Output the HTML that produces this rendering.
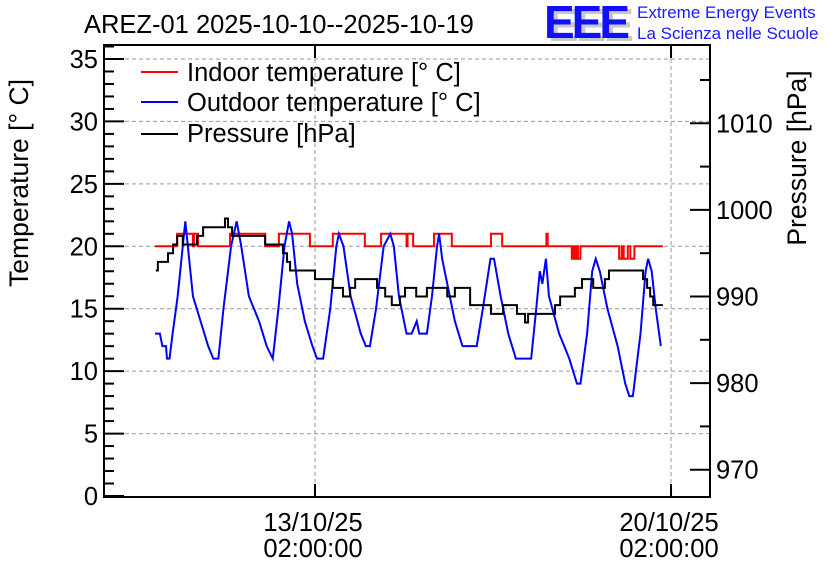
<!DOCTYPE html>
<html><head><meta charset="utf-8"><style>
html,body{margin:0;padding:0;background:#fff}
svg{display:block;font-family:"Liberation Sans",sans-serif}
</style></head><body>
<svg id="chart" width="836" height="572" viewBox="0 0 836 572">
<rect x="0" y="0" width="836" height="572" fill="#fff"/>
<text x="84" y="33" font-size="25.5">AREZ-01 2025-10-10--2025-10-19</text>
<g>
<text x="548" y="41" font-size="46" font-weight="bold" fill="#c8c8c8" letter-spacing="-3">EEE</text>
<text x="544" y="38" font-size="46" font-weight="bold" fill="#1010ff" letter-spacing="-3">EEE</text>
<text x="637" y="18" font-size="17" fill="#1a1aff">Extreme Energy Events</text>
<text x="637" y="39" font-size="17" fill="#1a1aff">La Scienza nelle Scuole</text>
</g>
<g id="grid"></g>
<g id="series"></g>
<rect x="104" y="45" width="606" height="452" fill="none" stroke="#000" stroke-width="2"/>
<g id="axes"></g>
<text transform="translate(28,183) rotate(-90)" text-anchor="middle" font-size="26.5">Temperature [° C]</text>
<text transform="translate(806,158) rotate(-90)" text-anchor="middle" font-size="26.5">Pressure [hPa]</text>
<g>
<line x1="141" y1="72" x2="178" y2="72" stroke="#f00" stroke-width="2"/>
<text x="187" y="81" font-size="25.5">Indoor temperature [° C]</text>
<line x1="141" y1="102" x2="178" y2="102" stroke="#00f" stroke-width="2"/>
<text x="187" y="111" font-size="25.5">Outdoor temperature [° C]</text>
<line x1="141" y1="134" x2="178" y2="134" stroke="#000" stroke-width="2"/>
<text x="187" y="142" font-size="25.5">Pressure [hPa]</text>
</g>
</svg>
<script>
// days relative to 13/10/25 02:00:00
const outTimes=[-3.146,-3.05,-3.0,-2.93,-2.91,-2.86,-2.80,-2.70,-2.6,-2.55,-2.5,-2.4,-2.25,-2.1,-2.0,-1.90,-1.8,-1.65,-1.54,-1.45,-1.3,-1.1,-0.95,-0.83,-0.72,-0.6,-0.51,-0.45,-0.35,-0.2,-0.05,0.04,0.16,0.3,0.42,0.47,0.56,0.7,0.9,1.0,1.08,1.2,1.35,1.48,1.55,1.65,1.8,1.9,2.0,2.05,2.2,2.3,2.4,2.44,2.5,2.6,2.75,2.9,3.18,3.3,3.45,3.52,3.65,3.8,3.95,4.25,4.35,4.42,4.47,4.54,4.6,4.8,5.0,5.15,5.22,5.35,5.45,5.52,5.6,5.75,5.95,6.1,6.18,6.25,6.4,6.5,6.55,6.62,6.7,6.8];
const outTemps=[13,13,12,12,11,11,13,16,20,22,20,16,14,12,11,11,15,20,22,20,16,14,12,11,15,20,22,21,17,14,12,11,11,15,20,21,20,16,13,12,12,15,20,21,20,16,13,13,14,13,13,16,20,21,19,17,14,12,12,15,19,19,16,13,11,11,15,18,17,19,16,13,11,9,9,13,18,19,18,15,12,9,8,8,13,18,19,18,15,12];
const inTimes=[-3.146,-2.71,-2.40,-2.38,-2.30,-1.67,-0.98,-0.71,-0.10,0.35,0.98,1.30,1.80,1.82,1.93,2.34,2.69,3.46,3.68,4.55,4.575,5.05,5.08,5.10,5.14,5.17,5.22,5.98,6.03,6.07,6.15,6.20,6.28];
const inTemps=[20,21,20,21,20,21,20,21,20,21,20,21,20,21,20,21,20,21,20,21,20,19,20,19,20,19,20,19,20,19,20,19,20];
const inEnd=6.84;
const pTimes=[-3.13,-3.09,-2.89,-2.79,-2.71,-2.60,-2.32,-2.20,-1.77,-1.71,-1.63,-0.98,-0.63,-0.55,-0.49,0.0,0.35,0.55,0.69,0.79,1.22,1.38,1.51,1.67,1.77,1.99,2.20,2.60,2.75,3.05,3.46,3.70,3.97,4.13,4.19,4.72,4.82,5.11,5.25,5.47,5.70,5.78,6.45,6.53,6.59,6.65];
const pValues=[993,994,995,996,997,996,997,998,999,998,997,996,995,994,993,992,991,990,991,992,991,990,989,990,991,990,991,990,991,989,988,989,988,987,988,989,990,991,992,991,992,993,992,991,990,989];
const pEnd=6.84;
const tempTicks=[0,5,10,15,20,25,30,35];
const presTicks=[970,980,990,1000,1010];
const xTickDays=[0,7];
const xTickDates=["13/10/25","20/10/25"];
const xTickTimes=["02:00:00","02:00:00"];

const NS="http://www.w3.org/2000/svg";
function X(d){return 315+d*50.86;}
function YT(t){return 496-t*12.486;}
function YP(p){return 209.9-(p-1000)*8.66;}
function mk(tag,attrs,parent){const e=document.createElementNS(NS,tag);for(const k in attrs)e.setAttribute(k,attrs[k]);parent.appendChild(e);return e;}
const grid=document.getElementById('grid'),axes=document.getElementById('axes'),series=document.getElementById('series');
tempTicks.forEach(t=>{
  if(t>0){const g=mk('line',{x1:104,x2:710,y1:YT(t),y2:YT(t),stroke:'#999','stroke-dasharray':'4,3','stroke-width':1},grid);
  
  }
  const tk=mk('line',{x1:104,x2:124,y1:YT(t),y2:YT(t),stroke:'#000','stroke-width':2},axes);
  
  
  const l=mk('text',{x:98,y:YT(t)+9,'text-anchor':'end','font-size':25.5},axes);l.textContent=t;
  
  
});
for(let t=1;t<=36;t++){if(t%5===0)continue;mk('line',{x1:104,x2:114,y1:YT(t),y2:YT(t),stroke:'#000','stroke-width':2},axes);}
presTicks.forEach(p=>{
  const tk=mk('line',{x1:690,x2:710,y1:YP(p),y2:YP(p),stroke:'#000','stroke-width':2},axes);
  
  
  const l=mk('text',{x:716,y:YP(p)+9,'font-size':25.5},axes);l.textContent=p;
  
  
});
for(let p=970;p<=1015;p+=5){if(p%10===0)continue;mk('line',{x1:700,x2:710,y1:YP(p),y2:YP(p),stroke:'#000','stroke-width':2},axes);}
xTickDays.forEach((d,i)=>{
  const g=mk('line',{x1:X(d),x2:X(d),y1:45,y2:497,stroke:'#999','stroke-dasharray':'4,3','stroke-width':1},grid);
  
  
  mk('line',{x1:X(d),x2:X(d),y1:497,y2:484,stroke:'#000','stroke-width':2},axes);
  mk('line',{x1:X(d),x2:X(d),y1:45,y2:58,stroke:'#000','stroke-width':2},axes);
  const a=mk('text',{x:X(d)-2,y:531,'text-anchor':'middle','font-size':25.5},axes);a.textContent=xTickDates[i];
  
  
  const b=mk('text',{x:X(d)-2,y:557,'text-anchor':'middle','font-size':25.5},axes);b.textContent=xTickTimes[i];
  
  
});
function stepPath(ts,vs,end,yf){let d='M'+X(ts[0])+','+yf(vs[0]);for(let i=1;i<ts.length;i++){d+='H'+X(ts[i])+'V'+yf(vs[i]);}d+='H'+X(end);return d;}
const pin=mk('path',{d:stepPath(inTimes,inTemps,inEnd,YT),fill:'none',stroke:'#f00','stroke-width':2},series);


let od='';outTimes.forEach((t,i)=>{od+=(i?'L':'M')+X(t)+','+YT(outTemps[i]);});
const pout=mk('path',{d:od,fill:'none',stroke:'#00f','stroke-width':2},series);


const pp=mk('path',{d:stepPath(pTimes,pValues,pEnd,YP),fill:'none',stroke:'#000','stroke-width':2},series);


</script>
</body></html>
